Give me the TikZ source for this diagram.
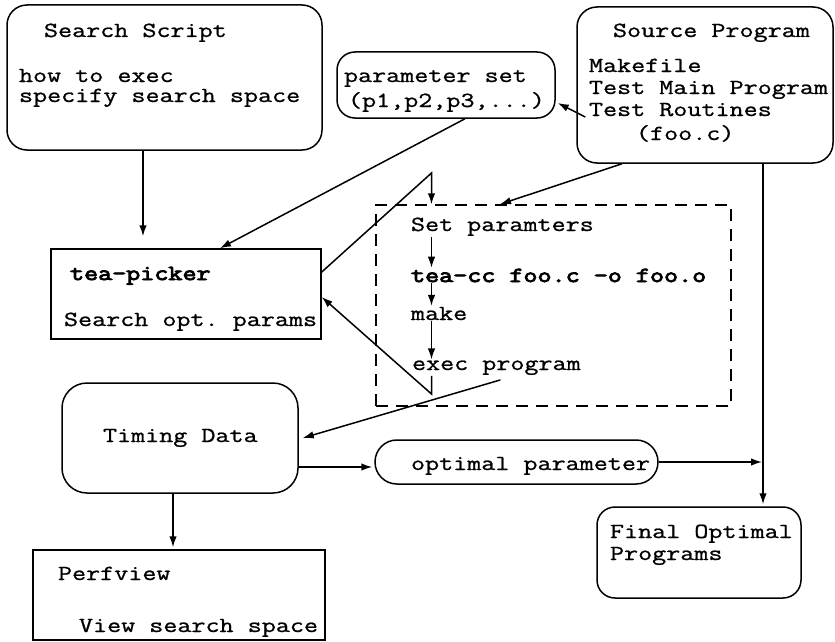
\documentclass[tikz,border=0pt]{standalone}
\usepackage{fontspec}
\setmonofont{Latin Modern Mono}[FakeStretch=1.27,FakeBold=1]
\newfontfamily\ttheavy{Latin Modern Mono}[FakeStretch=1.27,FakeBold=4]
\usetikzlibrary{arrows.meta,calc}
\tikzset{
  sqbox/.style={draw, line width=1.5pt, inner sep=0pt, rectangle},
  rdbox/.style={sqbox, rounded corners=20pt},
  dashbox/.style={draw, line width=1.5pt, dash pattern=on 12pt off 8pt, inner sep=0pt},
  lbl/.style={anchor=base west, inner sep=0pt, outer sep=1pt,
              font=\ttfamily\fontsize{21.5}{24}\selectfont},
  lblb/.style={lbl, font=\ttheavy\fontsize{21.5}{24}\selectfont},
  arr/.style={line width=1.5pt, -{Latex[length=11pt,width=7.5pt]}},
}
\begin{document}
\begin{tikzpicture}[x=1pt,y=-1pt]
\useasboundingbox (0,0) rectangle (835,642);

% boxes
\node[rdbox, minimum width=315pt, minimum height=145pt] (search) at (164.5,77.5) {};
\node[sqbox, minimum width=270pt, minimum height=90pt] (picker) at (186,294) {};
\node[rdbox, rounded corners=25pt, minimum width=236pt, minimum height=110pt] (timing) at (180,438) {};
\node[sqbox, minimum width=292pt, minimum height=90pt] (perf) at (179,595) {};
\node[rdbox, rounded corners=18pt, minimum width=218pt, minimum height=66pt] (pset) at (446,85) {};
\node[rdbox, minimum width=256pt, minimum height=156pt] (source) at (705,85) {};
\node[dashbox, minimum width=355pt, minimum height=201pt] (loop) at (553.5,305.5) {};
\node[rdbox, rounded corners=21.9pt, minimum width=283pt, minimum height=44pt] (optp) at (516.5,462) {};
\node[rdbox, rounded corners=18pt, minimum width=204pt, minimum height=91pt] (final) at (699,552.5) {};

% texts
\node[lbl] (sstitle) at (43,37) {Search Script};
\node[lbl] (ssl1) at (18,82) {how to exec};
\node[lbl] (ssl2) at (18,102) {specify search space};
\node[lblb] (pktitle) at (69,280) {tea-picker};
\node[lbl] (pkl1) at (63,326) {Search opt. params};
\node[lbl] (tdtitle) at (102,442) {Timing Data};
\node[lbl] (pvtitle) at (57,580) {Perfview};
\node[lbl] (pvl1) at (78,632) {View search space};
\node[lbl] (psl1) at (343,82) {parameter set};
\node[lbl] (psl2) at (347,107) {(p1,p2,p3,...)};
\node[lbl] (sptitle) at (612,37) {Source Program};
\node[lbl] (spl1) at (588,72) {Makefile};
\node[lbl] (spl2) at (588,94) {Test Main Program};
\node[lbl] (spl3) at (588,116) {Test Routines};
\node[lbl] (spl4) at (635,140) {(foo.c)};
\node[lbl] (setp) at (410,231) {Set paramters};
\node[lblb] (teacc) at (410,282) {tea-cc foo.c -o foo.o};
\node[lbl] (make) at (410,320) {make};
\node[lbl] (exec) at (411,370) {exec program};
\node[lbl] (optl) at (410,470) {optimal parameter};
\node[lbl] (fol1) at (609,538) {Final Optimal};
\node[lbl] (fol2) at (609,560) {Programs};

% connectors
\coordinate (peak) at (431.5,173);
\coordinate (bend) at (431.5,394);
\coordinate (vline) at (763,300);

\draw[arr] ([xshift=-21.5pt]search.south) -- ([shift={(-43pt,12pt)}]picker.north);
\draw[arr] ([xshift=19pt]pset.south) -- ([xshift=34pt]picker.north);
\draw[arr] ([shift={(9pt,-32pt)}]source.west) -- ([shift={(2pt,-18pt)}]pset.east);
\draw[arr] ([xshift=-83pt]source.south) -- ([xshift=-53.5pt]loop.north);
\draw[arr] ([yshift=22pt]picker.east) -- (peak) -- (peak |- loop.north);
\draw[arr] (setp.south -| peak) -- (teacc.north -| peak);
\draw[arr] (teacc.south -| peak) -- (make.north -| peak);
\draw[arr] (make.south -| peak) -- (exec.north -| peak);
\draw[arr] (exec.south -| bend) -- (bend) -- ([yshift=-3pt]picker.east);
\draw[arr] ([shift={(4pt,-4pt)}]exec.south) -- ([xshift=4pt]timing.east);
\draw[arr] ([yshift=-29pt]timing.east) -- ([shift={(-2pt,-5pt)}]optp.west);
\draw[arr, shorten >=1pt] (optp.east) -- (optp.east -| vline);
\draw[arr] ([xshift=58pt]source.south) -- ([shift={(64pt,2pt)}]final.north);
\draw[arr] ([xshift=-7pt]timing.south) -- ([shift={(-6pt,2pt)}]perf.north);
\end{tikzpicture}
\end{document}
